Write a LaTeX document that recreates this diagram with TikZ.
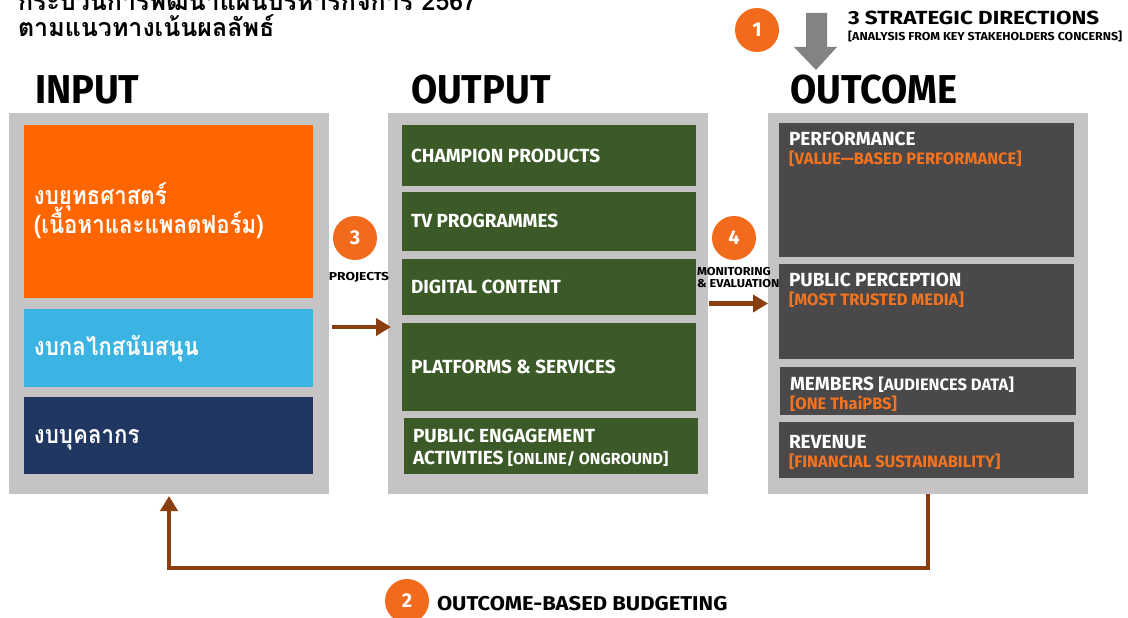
\documentclass[tikz,border=0pt]{standalone}
\usepackage{fontspec}
\setmainfont{Fira Sans}
\newfontfamily\thaifont[Script=Thai]{Loma}
\usetikzlibrary{arrows.meta,fit}

\definecolor{boxgray}{HTML}{C5C3C4}
\definecolor{inorange}{HTML}{FF6600}
\definecolor{inblue}{HTML}{3BB4E3}
\definecolor{innavy}{HTML}{1F3761}
\definecolor{outgreen}{HTML}{3B5A27}
\definecolor{ocgray}{HTML}{4B4849}
\definecolor{subor}{HTML}{F4731E}
\definecolor{arrbrown}{HTML}{8A3E10}
\definecolor{circor}{HTML}{F26B1D}
\definecolor{bigarrow}{HTML}{838383}

\begin{document}
\begin{tikzpicture}[x=1pt,y=-1pt,
  every node/.style={inner sep=0pt, outer sep=0pt},
  panel/.style={fill=boxgray},
  tile/.style={fill=#1},
  head/.style={font=\bfseries\fontsize{38}{38}\selectfont, anchor=base west, yscale=1.06},
  thaititle/.style={font=\thaifont\bfseries\fontsize{25}{25}\selectfont, anchor=base west},
  thailabel/.style={font=\thaifont\bfseries\fontsize{25}{25}\selectfont, text=white, anchor=base west, xscale=0.89},
  glabel/.style={font=\bfseries\fontsize{19}{19}\selectfont, text=white, anchor=west},
  otitle/.style={font=\bfseries\fontsize{19}{19}\selectfont, text=white, anchor=base west},
  osub/.style={font=\bfseries\fontsize{16.5}{16.5}\selectfont, text=subor, anchor=base west},
  numcirc/.style={circle, fill=circor, minimum size=44pt, text=white, font=\bfseries\fontsize{20}{20}\selectfont},
  smalllbl/.style={font=\bfseries\fontsize{11.5}{13}\selectfont, text=black},
  arr/.style={draw=arrbrown, line width=4.5pt, -{Triangle[length=15pt,width=17pt]}},
]
\useasboundingbox (0,0) rectangle (1128,618);
\fill[white] (0,0) rectangle (1128,618);

% title (first line cut by the page edge, as in the original)
\node[thaititle] (t1) at (18,11) {กระบวนการพัฒนาแผนบริหารกิจการ 2567};
\node[thaititle] (t2) at (18,37) {ตามแนวทางเน้นผลลัพธ์};

% headings
\node[head] (hin) at (35,103) {INPUT};
\node[head] (hout) at (411,103) {OUTPUT};
\node[head] (hoc) at (790,103) {OUTCOME};

% strategic directions
\node[numcirc] (c1) at (757,30) {1};
\fill[bigarrow] (806,13) -- (827,13) -- (827,47) -- (837,47) -- (816,70) -- (794,47) -- (806,47) -- cycle;
\node[font=\bfseries\fontsize{19}{19}\selectfont, anchor=base west, xscale=1.18] (sd) at (848,25) {3 STRATEGIC DIRECTIONS};
\node[font=\bfseries\fontsize{11.5}{11.5}\selectfont, anchor=base west, xscale=1.08] (sdsub) at (848,41) {[ANALYSIS FROM KEY STAKEHOLDERS CONCERNS]};

% panels
\node[panel, fit={(9,113) (329,494)}] (input) {};
\node[panel, fit={(388,113) (708,494)}] (output) {};
\node[panel, fit={(768,113) (1088,494)}] (outcome) {};

% input tiles
\node[tile=inorange, fit={(24,125) (313,298)}] (strat) {};
\node[tile=inblue, fit={(24,309) (313,387)}] (mech) {};
\node[tile=innavy, fit={(24,397) (313,474)}] (staff) {};
\node[thailabel] (strat1) at (34,204) {งบยุทธศาสตร์};
\node[thailabel] (strat2) at (34,233) {(เนื้อหาและแพลตฟอร์ม)};
\node[thailabel] (mechl) at (34,355) {งบกลไกสนับสนุน};
\node[thailabel] (staffl) at (34,443) {งบบุคลากร};

% output tiles
\node[tile=outgreen, fit={(402,125) (696,186)}] (champ) {};
\node[tile=outgreen, fit={(402,192) (696,251)}] (tv) {};
\node[tile=outgreen, fit={(402,259) (696,315)}] (digi) {};
\node[tile=outgreen, fit={(402,323) (696,411)}] (plat) {};
\node[tile=outgreen, fit={(404,418) (698,474)}] (pub) {};
\node[glabel] (champl) at (411,156) {CHAMPION PRODUCTS};
\node[glabel] (tvl) at (411,221) {TV PROGRAMMES};
\node[glabel] (digil) at (411,287) {DIGITAL CONTENT};
\node[glabel] (platl) at (411,367) {PLATFORMS \& SERVICES};
\node[glabel, anchor=base west] (publ1) at (413,442) {PUBLIC ENGAGEMENT};
\node[glabel, anchor=base west] (publ2) at (413,464) {ACTIVITIES {\fontsize{16}{16}\selectfont [ONLINE/ ONGROUND]}};

% outcome tiles
\node[tile=ocgray, fit={(779,123) (1074,257)}] (perf) {};
\node[tile=ocgray, fit={(779,264) (1074,359)}] (perc) {};
\node[tile=ocgray, fit={(780,367) (1076,415)}] (memb) {};
\node[tile=ocgray, fit={(779,422) (1074,478)}] (rev) {};
\node[otitle] (perft) at (789,145) {PERFORMANCE};
\node[osub] (perfs) at (789,164) {[VALUE—BASED PERFORMANCE]};
\node[otitle] (perct) at (789,286) {PUBLIC PERCEPTION};
\node[osub] (percs) at (789,305) {[MOST TRUSTED MEDIA]};
\node[otitle] (membt) at (790,390) {MEMBERS {\fontsize{16.5}{16.5}\selectfont [AUDIENCES DATA]}};
\node[osub] (membs) at (790,409) {[ONE ThaiPBS]};
\node[otitle] (revt) at (789,448) {REVENUE};
\node[osub] (revs) at (789,467) {[FINANCIAL SUSTAINABILITY]};

% step 3
\node[numcirc] (c3) at (355,238) {3};
\node[smalllbl, xscale=1.2] (proj) at (359,277) {PROJECTS};
\draw[arr] ([xshift=3pt,yshift=-23.5pt]input.east) -- ([xshift=3pt,yshift=-23.5pt]output.west);

% step 4
\node[numcirc] (c4) at (734,238) {4};
\node[smalllbl, anchor=north west, align=left, xscale=1.1] (mon) at (697,267) {MONITORING\\[-1pt]\& EVALUATION};
\draw[arr] ([xshift=1pt]output.east) -- (outcome.west);

% step 2
\draw[arr, line width=4pt] (outcome.south) -- ++(0,74) -| ([yshift=-2pt]input.south);
\node[numcirc] (c2) at (407,601) {2};
\node[font=\bfseries\fontsize{20}{20}\selectfont, anchor=base west, xscale=1.1] (obb) at (437,610) {OUTCOME-BASED BUDGETING};
\end{tikzpicture}
\end{document}
